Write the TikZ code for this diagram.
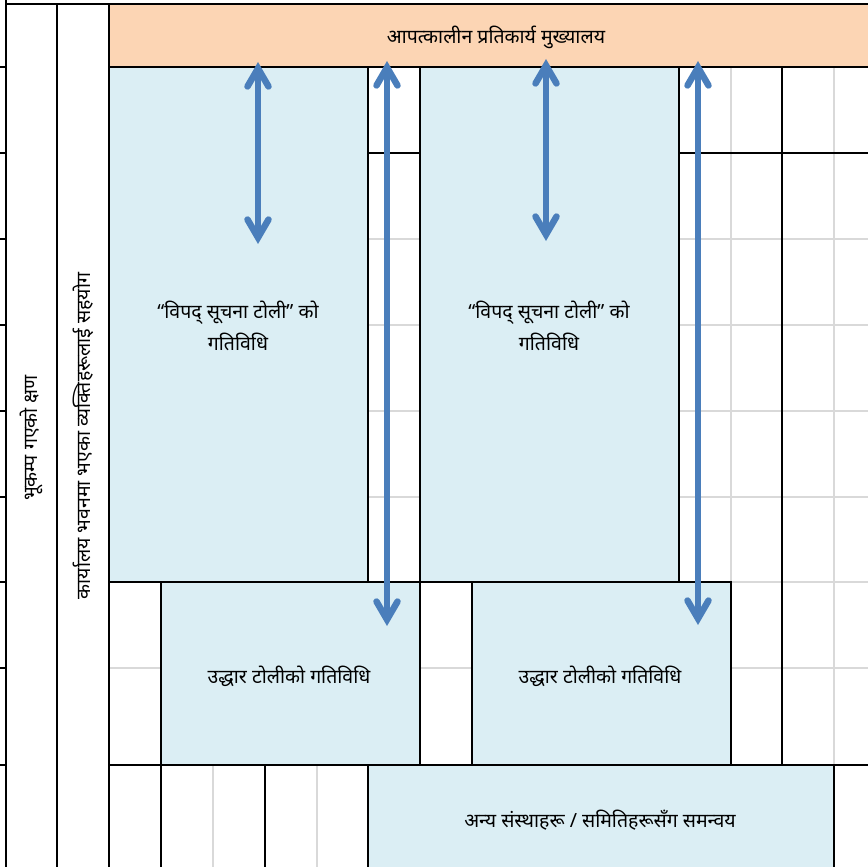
\documentclass[tikz,border=0pt]{standalone}
\usepackage{fontspec}
\newfontfamily\deva[Script=Devanagari]{Noto Sans}
\usetikzlibrary{arrows.meta,fit}
\definecolor{hdrfill}{HTML}{FCD5B4}
\definecolor{boxfill}{HTML}{DBEEF4}
\definecolor{arrowblue}{HTML}{4A7EBB}
\definecolor{gridgray}{HTML}{D9D9D9}
\begin{document}
\begin{tikzpicture}[x=1pt,y=-1pt,
  cellline/.style={black, line width=1.6pt},
  thickline/.style={black, line width=2.6pt},
  gridline/.style={gridgray, line width=1.4pt},
  hdrbox/.style={fill=hdrfill, draw=black, line width=1.6pt, inner sep=0pt},
  bluebox/.style={fill=boxfill, draw=black, line width=1.6pt, inner sep=0pt},
  txt/.style={font=\deva\fontsize{19.5}{32}\selectfont, align=center, text=black, inner sep=0pt},
  sidetxt/.style={font=\deva\fontsize{19.5}{22}\selectfont, rotate=90, text=black, inner sep=0pt},
  barbtip/.tip={Straight Barb[length=18pt,width=21pt,line cap=round,line join=miter]},
  duplex/.style={arrowblue, line width=6.5pt, {barbtip}-{barbtip}},
]
\useasboundingbox (0,0) rectangle (868,867);
\clip (0,0) rectangle (868,867);
\fill[white] (0,0) rectangle (868,867);

% light spreadsheet grid
\foreach \gx in {161,213,265,317,368,420,472,524,576,627,679,731,782,834}
  \draw[gridline] (\gx,67) -- (\gx,867);
\foreach \gy in {153,239,325,411,497,582,668,765}
  \draw[gridline] (109,\gy) -- (868,\gy);

% header
\node[hdrbox, fit={(109,4) (880,67)}] (hdr) {};
\node[txt] (hdrtxt) at (496,37) {आपत्कालीन प्रतिकार्य मुख्यालय};

% merged cell borders in the free columns
\draw[cellline] (368,153) -- (420,153);
\draw[cellline] (679,153) -- (868,153);
\draw[cellline] (368,67) -- (368,582);
\draw[cellline] (420,67) -- (420,765);
\draw[cellline] (679,67) -- (679,582);
\draw[cellline] (782,67) -- (782,765);
\draw[cellline] (109,582) -- (731,582);
\draw[cellline] (109,765) -- (868,765);
\draw[cellline] (161,582) -- (161,867);
\draw[cellline] (265,765) -- (265,867);

% activity boxes
\node[bluebox, fit={(109,67) (368,582)}] (info1) {};
\node[bluebox, fit={(420,67) (679,582)}] (info2) {};
\node[bluebox, fit={(161,582) (420,765)}] (rescue1) {};
\node[bluebox, fit={(472,582) (731,765)}] (rescue2) {};
\node[bluebox, fit={(368,765) (834,880)}] (coord) {};

\node[txt] (info1txt) at (238,326) {“विपद् सूचना टोली” को\\गतिविधि};
\node[txt] (info2txt) at (549,326) {“विपद् सूचना टोली” को\\गतिविधि};
\node[txt] (rescue1txt) at (289,676) {उद्धार टोलीको गतिविधि};
\node[txt] (rescue2txt) at (600,676) {उद्धार टोलीको गतिविधि};
\node[txt] (coordtxt) at (600,820) {अन्य संस्थाहरू / समितिहरूसँग समन्वय};

% left title columns
\draw[thickline] (6,4) -- (868,4);
\draw[thickline] (6,0) -- (6,867);
\draw[thickline] (57,4) -- (57,867);
\draw[thickline] (109,4) -- (109,867);
\foreach \gy in {67,153,239,325,411,497,582,668,765}
  \draw[cellline] (0,\gy) -- (6,\gy);
\node[sidetxt] (moment) at (31,438) {भूकम्प गएको क्षण};
\node[sidetxt] (support) at (83,436) {कार्यालय भवनमा भएका व्यक्तिहरूलाई सहयोग};

% two-way communication arrows
\coordinate (a1top) at (258,62);
\coordinate (a1bot) at (258,244);
\coordinate (a2top) at (387,61);
\coordinate (a2bot) at (387,626);
\coordinate (a3top) at (546,59);
\coordinate (a3bot) at (546,241);
\coordinate (a4top) at (698,61);
\coordinate (a4bot) at (698,625);
\draw[duplex] (a1top) -- (a1bot);
\draw[duplex] (a2top) -- (a2bot);
\draw[duplex] (a3top) -- (a3bot);
\draw[duplex] (a4top) -- (a4bot);
\end{tikzpicture}
\end{document}
